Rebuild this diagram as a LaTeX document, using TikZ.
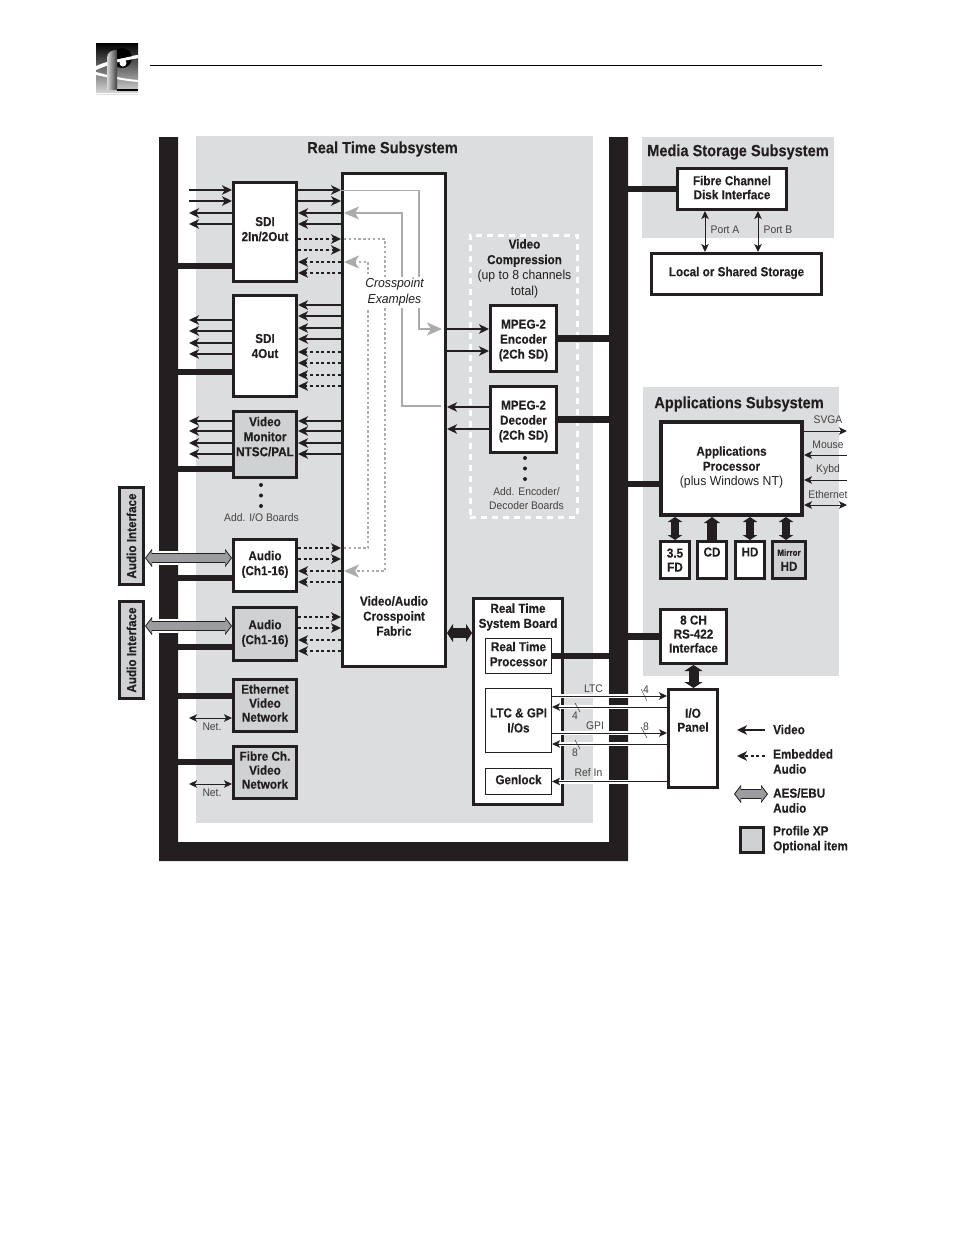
\documentclass[tikz,border=0pt]{standalone}
\usepackage{fontspec}
\usepackage{tikz}
\usetikzlibrary{arrows.meta}
\setmainfont{Liberation Sans}[FakeStretch=0.9,BoldFeatures={FakeBold=0.2}]
\newfontfamily\thinfont{Liberation Sans}[FakeStretch=0.94]
\definecolor{inkdark}{HTML}{231F20}
\definecolor{panelgrey}{HTML}{DCDDDE}
\definecolor{optgrey}{HTML}{CFD1D3}
\definecolor{xpgrey}{HTML}{A9ABAE}
\definecolor{aesgrey}{HTML}{9A9C9F}
\begin{document}
\begin{tikzpicture}[x=1pt,y=-1pt,
  boxlabel/.style={font=\bfseries\fontsize{13}{15}\selectfont, text=inkdark, align=center},
  tightlabel/.style={font=\bfseries\fontsize{13}{14}\selectfont},
  board/.style={draw=inkdark, line width=3pt, fill=white, inner sep=0pt, boxlabel},
  optboard/.style={board, fill=optgrey},
  subboard/.style={board, line width=1.1pt},
  lifted/.style={text depth=#1},
  dropped/.style={text height=#1},
  titletext/.style={font=\bfseries\fontsize{16.2}{18}\selectfont, text=inkdark},
  smalltext/.style={font=\thinfont\fontsize{11}{13.5}\selectfont, text=inkdark!85, align=center, inner sep=0pt},
  keytext/.style={boxlabel, align=left, inner sep=0pt, anchor=west},
  sig/.style={draw=inkdark, line width=1.7pt, -{Stealth[length=10pt,width=9.5pt,inset=2.8pt]}},
  sigheavy/.style={sig, line width=2.4pt},
  emb/.style={sig, dash pattern=on 3pt off 2.6pt},
  embheavy/.style={emb, line width=2.2pt},
  thinsig/.style={draw=inkdark, line width=1pt, -{Stealth[length=8pt,width=7.5pt,inset=2pt]}},
  thinboth/.style={draw=inkdark, line width=1pt, {Stealth[length=8pt,width=7.5pt,inset=2pt]}-{Stealth[length=8pt,width=7.5pt,inset=2pt]}},
  halo/.style={thinsig, preaction={draw=white, line width=4pt, -}},
  busline/.style={draw=inkdark, line width=6.5pt},
  fatboth/.style={draw=inkdark, line width=8pt, {Triangle[length=5pt,width=14.5pt]}-{Triangle[length=5pt,width=14.5pt]}},
  fatup/.style={draw=inkdark, line width=10pt, -{Triangle[length=6pt,width=16pt]}},
  fatbig/.style={draw=inkdark, line width=10pt, {Triangle[length=6pt,width=18pt]}-{Triangle[length=6pt,width=18pt]}},
  aesout/.style={draw=inkdark, line width=10pt, {Triangle[length=7pt,width=18pt]}-{Triangle[length=7pt,width=18pt]}},
  aesin/.style={draw=aesgrey, line width=7.5pt, shorten <=1.2pt, shorten >=1.2pt, {Triangle[length=5.5pt,width=14pt]}-{Triangle[length=5.5pt,width=14pt]}},
  xpsolid/.style={draw=xpgrey, line width=1.9pt, -{Stealth[length=15pt,width=13pt,inset=4pt]}},
  xpdot/.style={xpsolid, line width=2pt, dash pattern=on 2.4pt off 2.4pt},
  dot/.style={circle, fill=inkdark, inner sep=0pt, minimum size=4pt},
]
\useasboundingbox (0,0) rectangle (954,1235);
% page header
\shade[top color=black, bottom color=black!18] (96,43) rectangle (138,92);
\fill[white] (96,66) .. controls (110,60) and (125,57) .. (138,55) -- (138,58) .. controls (125,60) and (110,64) .. (96,70) -- cycle;
\fill[white] (96,72) .. controls (110,76) and (125,79) .. (138,80) -- (138,82) .. controls (125,81) and (110,78) .. (96,75) -- cycle;
\fill[black] (122,58) circle (10);
\fill[white] (123,63) circle (3.5);
\fill[white] (114,60) -- (138,55) -- (138,58) -- (114,63) -- cycle;
\shade[left color=black!15, right color=black!75] (107,90) -- (107,58) .. controls (107,52) and (112,50) .. (117,50) -- (117,90) -- cycle;
\fill[black] (117,89) rectangle (138,91);
\fill[black!12] (96,93.5) rectangle (138,94.5);
\draw[black, line width=1pt] (150,65.5) -- (822,65.5);
%
% subsystem panels
\fill[panelgrey] (196,136) rectangle (593,823);
\fill[panelgrey] (642,137) rectangle (834,238);
\fill[panelgrey] (643,387) rectangle (839,676);
\node[titletext] (rttitle) at (382.5,149) {Real Time Subsystem};
\node[titletext] (mstitle) at (738,152) {Media Storage Subsystem};
\node[titletext] (apptitle) at (739,404) {Applications Subsystem};
%
% backplane bus
\fill[inkdark] (159,137) -- (178,137) -- (178,842) -- (609,842) -- (609,137) -- (628,137) -- (628,861) -- (159,861) -- cycle;
\fill[white] (159,551) rectangle (178,565);
\fill[white] (159,619) rectangle (178,633);
\coordinate (busleft) at (170,500);
\coordinate (busright) at (618,500);
\coordinate (inlet) at (189,500);
\coordinate (appout) at (847,500);
%
% I/O boards
\node[board, minimum width=63, minimum height=99, lifted=6] (sdione) at (265,232) {SDI\\2In/2Out};
\node[board, minimum width=63, minimum height=101] (sditwo) at (265,346) {SDI\\4Out};
\node[optboard, minimum width=63, minimum height=66, lifted=16] (monitor) at (265,444.5) {Video\\Monitor\\NTSC/PAL};
\node[board, minimum width=63, minimum height=52, lifted=5] (audione) at (265,565.5) {Audio\\(Ch1-16)};
\node[optboard, minimum width=63, minimum height=53, lifted=4] (audiotwo) at (265,634) {Audio\\(Ch1-16)};
\node[optboard, tightlabel, minimum width=63, minimum height=52, lifted=5] (ethernet) at (265,705.5) {Ethernet\\Video\\Network};
\node[optboard, tightlabel, minimum width=63, minimum height=52, lifted=5] (fibre) at (265,772.5) {Fibre Ch.\\Video\\Network};
\node[optboard, minimum width=24, minimum height=97] (aifone) at (131.5,536) {\rotatebox{90}{Audio Interface}};
\node[optboard, minimum width=24, minimum height=97] (aiftwo) at (131.5,650) {\rotatebox{90}{Audio Interface}};
\node[dot] (iodotone) at (261,485) {};
\node[dot] (iodottwo) at (261,495.5) {};
\node[dot] (iodotthree) at (261,506) {};
\node[smalltext] (iomore) at (261.5,518) {Add. I/O Boards};
%
% crosspoint fabric
\node[board, minimum width=103, minimum height=493] (fabric) at (394,420) {};
\node[boxlabel] (fabrictext) at (394,616) {Video/Audio\\Crosspoint\\Fabric};
%
% compression boards
\node[draw=white, line width=3pt, dash pattern=on 6pt off 5pt, minimum width=107, minimum height=282] (compress) at (523.5,376) {};
\node[boxlabel, font=\bfseries\fontsize{13}{15.5}\selectfont] (comptext) at (524.5,268.5) {Video\\Compression\\{\thinfont\mdseries (up to 8 channels}\\{\thinfont\mdseries total)}};
\node[board, minimum width=66, minimum height=66, dropped=43] (encoder) at (523.5,338.5) {MPEG-2\\Encoder\\(2Ch SD)};
\node[board, minimum width=66, minimum height=66, dropped=43] (decoder) at (523.5,419.5) {MPEG-2\\Decoder\\(2Ch SD)};
\node[dot] (endotone) at (525,458) {};
\node[dot] (endottwo) at (525,468.5) {};
\node[dot] (endotthree) at (525,479) {};
\node[smalltext] (enmore) at (526.5,498.5) {Add. Encoder/\\Decoder Boards};
%
% real time system board
\node[board, minimum width=89, minimum height=206] (rtboard) at (518,701.5) {};
\node[boxlabel] (rttext) at (518,617) {Real Time\\System Board};
\node[subboard, minimum width=66, minimum height=35, lifted=4] (rtproc) at (518.5,656) {Real Time\\Processor};
\node[subboard, minimum width=66, minimum height=64] (ltcgpi) at (518.5,720.5) {LTC \& GPI\\I/Os};
\node[subboard, minimum width=66, minimum height=26, lifted=4] (genlock) at (518.5,781.5) {Genlock};
%
% storage and applications
\node[board, tightlabel, minimum width=109, minimum height=41, lifted=3] (disk) at (732,189) {Fibre Channel\\Disk Interface};
\node[board, minimum width=170, minimum height=41, lifted=5] (storage) at (736.5,274) {Local or Shared Storage};
\node[board, line width=4pt, minimum width=141, minimum height=93, lifted=5] (appproc) at (731.5,468.5) {Applications\\Processor\\{\thinfont\mdseries (plus Windows NT)}};
\node[board, tightlabel, minimum width=29, minimum height=37] (floppy) at (675,560) {3.5\\FD};
\node[board, minimum width=29, minimum height=37, lifted=16] (cdrom) at (712,560) {CD};
\node[board, minimum width=29, minimum height=37, lifted=16] (harddisk) at (750,560) {HD};
\node[optboard, minimum width=33, minimum height=37] (mirror) at (789,560) {{\fontsize{9}{11}\selectfont Mirror}\\HD};
\node[board, tightlabel, minimum width=66, minimum height=54, lifted=5] (rsinf) at (693.5,636.5) {8 CH\\RS-422\\Interface};
\node[board, tightlabel, minimum width=49, minimum height=98, lifted=37] (iopanel) at (693,738.5) {I/O\\Panel};
%
% SDI 2In/2Out
\draw[sig] (inlet |- 0,190) -- (sdione.west |- 0,190);
\draw[sig] (inlet |- 0,201) -- (sdione.west |- 0,201);
\draw[sig] (sdione.west |- 0,213) -- (inlet |- 0,213);
\draw[sig] (sdione.west |- 0,224) -- (inlet |- 0,224);
\draw[sig] (sdione.east |- 0,190) -- (fabric.west |- 0,190);
\draw[sig] (sdione.east |- 0,201) -- (fabric.west |- 0,201);
\draw[sig] (fabric.west |- 0,213) -- (sdione.east |- 0,213);
\draw[sig] (fabric.west |- 0,224) -- (sdione.east |- 0,224);
\draw[emb] (sdione.east |- 0,239) -- (fabric.west |- 0,239);
\draw[emb] (sdione.east |- 0,250) -- (fabric.west |- 0,250);
\draw[embheavy] (fabric.west |- 0,262) -- (sdione.east |- 0,262);
\draw[embheavy] (fabric.west |- 0,273) -- (sdione.east |- 0,273);
\draw[busline] (busleft |- 0,266) -- (sdione.west |- 0,266);
%
% SDI 4Out
\draw[sig] (sditwo.west |- 0,320) -- (inlet |- 0,320);
\draw[sig] (sditwo.west |- 0,331) -- (inlet |- 0,331);
\draw[sig] (sditwo.west |- 0,343) -- (inlet |- 0,343);
\draw[sig] (sditwo.west |- 0,354) -- (inlet |- 0,354);
\draw[sigheavy] (fabric.west |- 0,305) -- (sditwo.east |- 0,305);
\draw[sigheavy] (fabric.west |- 0,316) -- (sditwo.east |- 0,316);
\draw[sigheavy] (fabric.west |- 0,328) -- (sditwo.east |- 0,328);
\draw[sig] (fabric.west |- 0,339) -- (sditwo.east |- 0,339);
\draw[emb] (fabric.west |- 0,352) -- (sditwo.east |- 0,352);
\draw[emb] (fabric.west |- 0,363) -- (sditwo.east |- 0,363);
\draw[emb] (fabric.west |- 0,375) -- (sditwo.east |- 0,375);
\draw[emb] (fabric.west |- 0,386) -- (sditwo.east |- 0,386);
\draw[busline] (busleft |- 0,372) -- (sditwo.west |- 0,372);
%
% video monitor
\draw[sig] (monitor.west |- 0,421) -- (inlet |- 0,421);
\draw[sigheavy] (monitor.west |- 0,431) -- (inlet |- 0,431);
\draw[sigheavy] (monitor.west |- 0,443) -- (inlet |- 0,443);
\draw[sigheavy] (monitor.west |- 0,454) -- (inlet |- 0,454);
\draw[sig] (fabric.west |- 0,421) -- (monitor.east |- 0,421);
\draw[sigheavy] (fabric.west |- 0,431) -- (monitor.east |- 0,431);
\draw[sigheavy] (fabric.west |- 0,443) -- (monitor.east |- 0,443);
\draw[sigheavy] (fabric.west |- 0,454) -- (monitor.east |- 0,454);
\draw[busline] (busleft |- 0,469) -- (monitor.west |- 0,469);
%
% audio boards
\draw[emb] (audione.east |- 0,548) -- (fabric.west |- 0,548);
\draw[emb] (audione.east |- 0,559) -- (fabric.west |- 0,559);
\draw[emb] (fabric.west |- 0,571) -- (audione.east |- 0,571);
\draw[emb] (fabric.west |- 0,582) -- (audione.east |- 0,582);
\draw[busline] (busleft |- 0,578) -- (audione.west |- 0,578);
\draw[emb] (audiotwo.east |- 0,617) -- (fabric.west |- 0,617);
\draw[emb] (audiotwo.east |- 0,628) -- (fabric.west |- 0,628);
\draw[emb] (fabric.west |- 0,640) -- (audiotwo.east |- 0,640);
\draw[emb] (fabric.west |- 0,651) -- (audiotwo.east |- 0,651);
\draw[busline] (busleft |- 0,647) -- (audiotwo.west |- 0,647);
\draw[aesout] (aifone.east |- 0,558) -- (audione.west |- 0,558);
\draw[aesin] (aifone.east |- 0,558) -- (audione.west |- 0,558);
\draw[aesout] (aiftwo.east |- 0,626) -- (audiotwo.west |- 0,626);
\draw[aesin] (aiftwo.east |- 0,626) -- (audiotwo.west |- 0,626);
%
% network boards
\draw[busline] (busleft |- 0,696) -- (ethernet.west |- 0,696);
\draw[thinboth] (inlet |- 0,718) -- (ethernet.west |- 0,718);
\node[smalltext] (netone) at (212,727) {Net.};
\draw[busline] (busleft |- 0,762) -- (fibre.west |- 0,762);
\draw[thinboth] (inlet |- 0,784) -- (fibre.west |- 0,784);
\node[smalltext] (nettwo) at (212,793) {Net.};
%
% crosspoint examples
\draw[xpsolid] (fabric.west |- 0,190.5) -| (419,329) -- (442,329);
\draw[xpsolid] (441,406) -| (402,213) -- (344,213);
\draw[xpdot] (344,239) -| (385,571) -- (344,571);
\draw[xpdot] (344,548) -| (368,262) -- (344,262);
\node[fill=white, inner sep=1pt, font=\thinfont\itshape\fontsize{13}{16}\selectfont, text=inkdark, align=center] (xptext) at (394.5,292.5) {Crosspoint\\Examples};
%
% compression connectors
\draw[sig] (fabric.east |- 0,329) -- (encoder.west |- 0,329);
\draw[sigheavy] (fabric.east |- 0,351) -- (encoder.west |- 0,351);
\draw[sig] (decoder.west |- 0,407) -- (fabric.east |- 0,407);
\draw[sig] (decoder.west |- 0,429) -- (fabric.east |- 0,429);
\draw[busline] (encoder.east) -- (busright |- encoder.east);
\draw[busline] (decoder.east) -- (busright |- decoder.east);
%
% real time board connectors
\draw[fatbig] (fabric.east |- 0,633) -- (rtboard.west |- 0,633);
\draw[busline] (rtproc.east) -- (busright |- rtproc.east);
\draw[halo] (ltcgpi.east |- 0,696) -- (iopanel.west |- 0,696);
\draw[halo] (iopanel.west |- 0,707) -- (ltcgpi.east |- 0,707);
\draw[halo] (ltcgpi.east |- 0,733) -- (iopanel.west |- 0,733);
\draw[halo] (iopanel.west |- 0,744) -- (ltcgpi.east |- 0,744);
\draw[halo] (iopanel.west |- genlock.east) -- (genlock.east);
\draw[inkdark, line width=0.4pt] (641,689) -- (647,701);
\draw[inkdark, line width=0.4pt] (575,703) -- (580,712);
\draw[inkdark, line width=0.4pt] (641,727) -- (647,738);
\draw[inkdark, line width=0.4pt] (575,740) -- (580,749);
\node[smalltext] (ltctext) at (593.5,688.5) {LTC};
\node[smalltext] (gpitext) at (595,725.5) {GPI};
\node[smalltext] (reftext) at (588.5,772.5) {Ref In};
\node[smalltext] (ltcnout) at (646,689.5) {4};
\node[smalltext] (ltcnin) at (575,715.5) {4};
\node[smalltext] (gpinout) at (646,726.5) {8};
\node[smalltext] (gpinin) at (575,752.5) {8};
%
% storage and applications connectors
\draw[busline] (busright |- disk.west) -- (disk.west);
\draw[thinboth] (disk.south -| 705,0) -- (storage.north -| 705,0);
\draw[thinboth] (disk.south -| 758,0) -- (storage.north -| 758,0);
\node[smalltext] (porta) at (725,230) {Port A};
\node[smalltext] (portb) at (778,230) {Port B};
\draw[busline] (busright |- 0,484) -- (appproc.west |- 0,484);
\draw[busline] (busright |- rsinf.west) -- (rsinf.west);
\draw[thinsig] (appproc.east |- 0,431) -- (appout |- 0,431);
\draw[thinsig] (appout |- 0,455) -- (appproc.east |- 0,455);
\draw[thinsig] (appout |- 0,480) -- (appproc.east |- 0,480);
\draw[thinboth] (appproc.east |- 0,505) -- (appout |- 0,505);
\node[smalltext] (svgatext) at (828,420) {SVGA};
\node[smalltext] (mousetext) at (828,445) {Mouse};
\node[smalltext] (kybdtext) at (828,469.5) {Kybd};
\node[smalltext] (ethtext) at (828,494.5) {Ethernet};
\draw[fatboth] (appproc.south -| floppy.north) -- (floppy.north);
\draw[fatup] (cdrom.north) -- (appproc.south -| cdrom.north);
\draw[fatboth] (appproc.south -| harddisk.north) -- (harddisk.north);
\draw[fatboth] (appproc.south -| 786,0) -- (mirror.north -| 786,0);
\draw[fatbig] (rsinf.south) -- (rsinf.south |- iopanel.north);
%
% legend
\coordinate (keyright) at (765,500);
\coordinate (keyleft) at (737,500);
\draw[sig] (keyright |- 0,730) -- (keyleft |- 0,730);
\draw[emb] (keyright |- 0,756) -- (keyleft |- 0,756);
\draw[aesout] (734,794) -- (768,794);
\draw[aesin] (734,794) -- (768,794);
\node[optboard, minimum width=23, minimum height=25] (keybox) at (752,840) {};
\node[keytext] (keyvideo) at (773,729.5) {Video};
\node[keytext] (keyemb) at (773,761.5) {Embedded\\Audio};
\node[keytext] (keyaes) at (773,800.5) {AES/EBU\\Audio};
\node[keytext] (keyopt) at (773,839.5) {Profile XP\\Optional item};
\end{tikzpicture}
\end{document}
